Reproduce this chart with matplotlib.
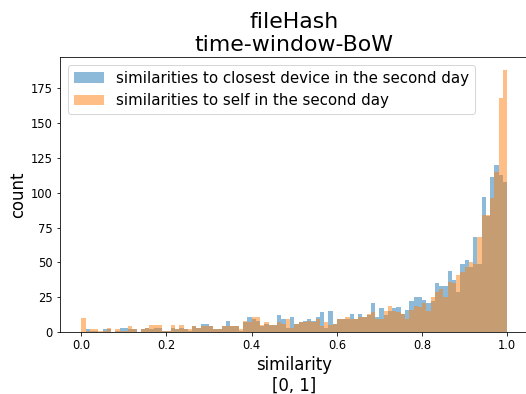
import numpy as np
import matplotlib
matplotlib.use('Agg')
import matplotlib.pyplot as plt

# Histogram counts per bin (100 bins over [0, 1])
bin_edges = np.linspace(0, 1, 101)

closest_counts = [
    0, 2, 1, 1, 0, 2, 2, 0, 1, 3,
    3, 2, 2, 0, 2, 3, 2, 3, 3, 1,
    1, 3, 2, 3, 2, 1, 4, 3, 6, 6,
    4, 2, 2, 4, 8, 4, 4, 1, 7, 11,
    9, 8, 4, 6, 5, 5, 12, 9, 3, 11,
    6, 7, 8, 9, 8, 11, 14, 3, 15, 6,
    9, 9, 9, 13, 9, 13, 11, 12, 21, 11,
    17, 12, 15, 17, 18, 13, 16, 22, 25, 25,
    23, 21, 22, 35, 33, 33, 44, 37, 29, 49,
    52, 47, 68, 49, 97, 83, 111, 120, 113, 108,
]

self_counts = [
    10, 1, 2, 2, 1, 1, 3, 0, 2, 1,
    1, 4, 2, 0, 2, 3, 5, 5, 5, 1,
    1, 5, 2, 5, 2, 2, 4, 3, 4, 4,
    4, 2, 2, 4, 4, 4, 4, 2, 8, 7,
    11, 11, 5, 7, 5, 5, 7, 6, 9, 3,
    6, 7, 7, 8, 7, 9, 4, 7, 5, 6,
    9, 9, 11, 9, 9, 11, 11, 13, 14, 9,
    9, 15, 19, 15, 14, 13, 9, 16, 19, 18,
    21, 15, 25, 29, 31, 25, 36, 35, 41, 43,
    47, 50, 49, 68, 84, 84, 96, 115, 168, 188,
]

labels = ['similarities to closest device in the second day',
          'similarities to self in the second day']

centers = (bin_edges[:-1] + bin_edges[1:]) / 2

fig = plt.figure(figsize=(526 / 72, 394 / 72), dpi=72)
ax = fig.add_axes([60 / 526, 62 / 394, 468.5 / 526, 275 / 394])

ax.hist(centers, bins=bin_edges, weights=closest_counts, alpha=0.5, label=labels[0])
ax.hist(centers, bins=bin_edges, weights=self_counts, alpha=0.5, label=labels[1])

ax.set_title('fileHash\ntime-window-BoW', fontsize=22)
ax.set_xlabel('similarity\n[0, 1]', fontsize=16.5)
ax.set_ylabel('count', fontsize=16.5)
ax.tick_params(labelsize=11.5)
ax.legend(loc='upper left', fontsize=15)

fig.savefig('out.png', dpi=72)
